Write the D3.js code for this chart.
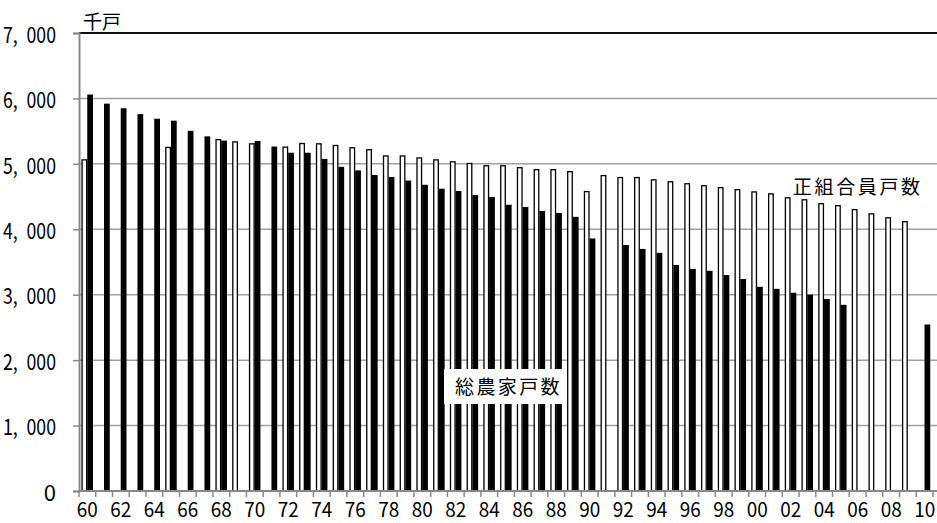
<!DOCTYPE html>
<html>
<head>
<meta charset="utf-8">
<script src="https://cdn.jsdelivr.net/npm/d3@7"></script>
<style>
  body { margin: 0; background: #fff; }
  svg text { font-family: "Noto Sans CJK JP", "Noto Sans", sans-serif; fill: #000; }
</style>
</head>
<body>
<svg id="canvas" width="937" height="523"></svg>
<script>
// years 1960..2010, labelled by last two digits
let years = d3.range(1960, 2011).map(y => String(y).slice(2));

// 正組合員戸数 (thousand households), null = no bar
let memberHouseholds = [
  5070, null, null, null, null, 5260, null, null, 5380, 5345,
  5315, null, 5265, 5320, 5315, 5290, 5255, 5225, 5130, 5130,
  5100, 5070, 5040, 5015, 4980, 4980, 4950, 4920, 4920, 4890,
  4585, 4830, 4800, 4800, 4765, 4735, 4705, 4675, 4645, 4615,
  4580, 4550, 4490, 4460, 4400, 4370, 4310, 4245, 4185, 4125,
  null
];

// 総農家戸数 (thousand households)
let totalFarmHouseholds = [
  6060, 5920, 5850, 5760, 5690, 5660, 5505, 5420, 5355, null,
  5350, 5265, 5170, 5170, 5075, 4955, 4900, 4830, 4800, 4745,
  4680, 4620, 4585, 4525, 4495, 4375, 4340, 4280, 4250, 4190,
  3860, null, 3760, 3700, 3640, 3455, 3395, 3365, 3300, 3240,
  3120, 3090, 3030, 3000, 2935, 2845, null, null, null, null,
  2545
];

let yTicks = [0, 1000, 2000, 3000, 4000, 5000, 6000, 7000];
let seriesNames = ["正組合員戸数", "総農家戸数"];

let canvas = d3.select("#canvas");

let plotLeft = 79, plotRight = 933, plotTop = 33, plotBottom = 491;

let x = d3.scaleBand().domain(years).range([plotLeft, plotRight]).padding(0);
let x1 = d3.scaleBand().domain(seriesNames).range([2.5, 14]).padding(0);
let y = d3.scaleLinear().domain([0, 7000]).range([plotBottom, plotTop]);

// gridlines
canvas.append("g")
  .selectAll("line")
  .data(yTicks.filter(d => d > 0))
  .enter()
  .append("line")
  .attr("x1", plotLeft).attr("x2", 937)
  .attr("y1", d => y(d)).attr("y2", d => y(d))
  .attr("stroke", d => d === 7000 ? "#111" : "#a0a0a0")
  .attr("stroke-width", d => d === 7000 ? 2 : 1.5);

// bars
let memberData = years.map((yr, i) => ({ yr: yr, v: memberHouseholds[i] })).filter(d => d.v !== null);
let totalData = years.map((yr, i) => ({ yr: yr, v: totalFarmHouseholds[i] })).filter(d => d.v !== null);

canvas.append("g")
  .selectAll("rect")
  .data(memberData)
  .enter()
  .append("rect")
  .attr("x", d => x(d.yr) + x1(seriesNames[0]) + 0.6)
  .attr("width", x1.bandwidth() - 1.2)
  .attr("y", d => y(d.v) + 0.6)
  .attr("height", d => y(0) - y(d.v) - 0.6)
  .attr("fill", "#fff")
  .attr("stroke", "#000")
  .attr("stroke-width", 1.3);

canvas.append("g")
  .selectAll("rect")
  .data(totalData)
  .enter()
  .append("rect")
  .attr("x", d => x(d.yr) + x1(seriesNames[1]))
  .attr("width", x1.bandwidth())
  .attr("y", d => y(d.v))
  .attr("height", d => y(0) - y(d.v))
  .attr("fill", "#000");

// y axis
let yAxis = canvas.append("g")
  .attr("transform", `translate(${plotLeft},0)`)
  .call(d3.axisLeft(y).tickValues(yTicks).tickSize(6).tickPadding(17)
    .tickFormat(d => d3.format(",")(d).replace(",", ",\u2002")));
yAxis.select(".domain").attr("stroke", "#888").attr("stroke-width", 2);
yAxis.selectAll(".tick line").attr("stroke", "#888").attr("stroke-width", 1.5);
yAxis.selectAll(".tick text")
  .attr("font-size", 22)
  .attr("dy", "0.42em")
  .attr("textLength", d => d === 0 ? null : 53)
  .attr("lengthAdjust", "spacingAndGlyphs");

// x axis
let xAxis = canvas.append("g")
  .attr("transform", `translate(0,${plotBottom})`)
  .call(d3.axisBottom(x).tickValues(years.filter((d, i) => i % 2 === 0)).tickSize(0).tickPadding(12));
xAxis.select(".domain").remove();
xAxis.selectAll(".tick text")
  .attr("font-size", 20)
  .attr("textLength", 21)
  .attr("lengthAdjust", "spacingAndGlyphs");

canvas.append("line")
  .attr("x1", plotLeft).attr("x2", 937)
  .attr("y1", plotBottom).attr("y2", plotBottom)
  .attr("stroke", "#888").attr("stroke-width", 2);

// category boundary ticks
canvas.append("g")
  .selectAll("line")
  .data(years.concat(["end"]))
  .enter()
  .append("line")
  .attr("x1", (d, i) => plotLeft + i * x.step())
  .attr("x2", (d, i) => plotLeft + i * x.step())
  .attr("y1", plotBottom).attr("y2", plotBottom + 6)
  .attr("stroke", "#888").attr("stroke-width", 1.5);

// unit
canvas.append("text")
  .attr("x", 83).attr("y", 29)
  .attr("font-size", 19)
  .text("千戸");

// series labels
canvas.append("text")
  .attr("x", 793).attr("y", 194)
  .attr("font-size", 19)
  .attr("letter-spacing", 2.6)
  .text("正組合員戸数");

canvas.append("rect")
  .attr("x", 444).attr("y", 369)
  .attr("width", 122).attr("height", 35)
  .attr("fill", "#fff");

canvas.append("text")
  .attr("x", 455).attr("y", 394)
  .attr("font-size", 19)
  .attr("letter-spacing", 2.4)
  .text("総農家戸数");
</script>
</body>
</html>
